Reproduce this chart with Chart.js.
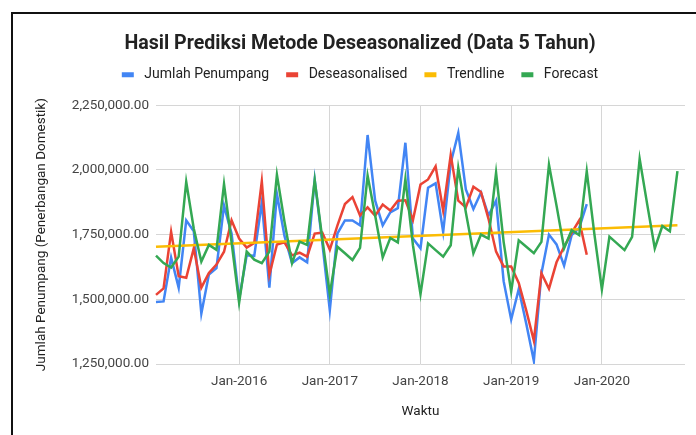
<!DOCTYPE html>
<html>
<head>
<meta charset="utf-8">
<script src="https://cdn.jsdelivr.net/npm/chart.js@4.4.1/dist/chart.umd.min.js"></script>
<style>
  html, body { margin: 0; padding: 0; background: #fff; overflow: hidden; }
  body { width: 696px; height: 435px; position: relative; }
  #frame { position: absolute; left: 11px; top: 12px; width: 720px; height: 440px; border-left: 2px solid #111; border-top: 2px solid #111; }
  #prediksi-chart { position: absolute; left: 0; top: 0; }
</style>
</head>
<body>
<div id="frame"><canvas id="prediksi-chart" width="694" height="421"></canvas></div>
<script>
// ---- Data ----
const categories = [
  'Feb-2015', 'Mar-2015', 'Apr-2015', 'May-2015', 'Jun-2015', 'Jul-2015', 'Aug-2015', 'Sep-2015', 'Oct-2015', 'Nov-2015', 'Dec-2015',
  'Jan-2016', 'Feb-2016', 'Mar-2016', 'Apr-2016', 'May-2016', 'Jun-2016', 'Jul-2016', 'Aug-2016', 'Sep-2016', 'Oct-2016', 'Nov-2016', 'Dec-2016',
  'Jan-2017', 'Feb-2017', 'Mar-2017', 'Apr-2017', 'May-2017', 'Jun-2017', 'Jul-2017', 'Aug-2017', 'Sep-2017', 'Oct-2017', 'Nov-2017', 'Dec-2017',
  'Jan-2018', 'Feb-2018', 'Mar-2018', 'Apr-2018', 'May-2018', 'Jun-2018', 'Jul-2018', 'Aug-2018', 'Sep-2018', 'Oct-2018', 'Nov-2018', 'Dec-2018',
  'Jan-2019', 'Feb-2019', 'Mar-2019', 'Apr-2019', 'May-2019', 'Jun-2019', 'Jul-2019', 'Aug-2019', 'Sep-2019', 'Oct-2019', 'Nov-2019', 'Dec-2019',
  'Jan-2020', 'Feb-2020', 'Mar-2020', 'Apr-2020', 'May-2020', 'Jun-2020', 'Jul-2020', 'Aug-2020', 'Sep-2020', 'Oct-2020', 'Nov-2020', 'Dec-2020',
];

const jumlahPenumpang = [
  1490000, 1492000, 1661000, 1545000, 1805000, 1763000, 1445000, 1596000, 1621000, 1862000, 1754000,
  1500000, 1670000, 1668000, 1875000, 1545000, 1907000, 1745000, 1640000, 1662000, 1643000, 1962000, 1720000,
  1458000, 1754000, 1805000, 1805000, 1786000, 2135000, 1881000, 1786000, 1836000, 1852000, 2105000, 1735000,
  1697000, 1931000, 1948000, 1760000, 2027000, 2143000, 1925000, 1849000, 1912000, 1824000, 1881000, 1570000,
  1422000, 1540000, 1405000, 1262000, 1600000, 1750000, 1712000, 1630000, 1748000, 1775000, 1868000,
];

const deseasonalised = [
  1517000, 1542000, 1761000, 1589000, 1583000, 1697000, 1545000, 1602000, 1634000, 1684000, 1805000,
  1735000, 1700000, 1718000, 1956000, 1595000, 1712000, 1720000, 1670000, 1680000, 1665000, 1754000, 1758000,
  1692000, 1785000, 1868000, 1895000, 1824000, 1855000, 1823000, 1866000, 1843000, 1881000, 1883000, 1806000,
  1944000, 1963000, 2014000, 1843000, 2058000, 1881000, 1855000, 1935000, 1915000, 1811000, 1684000, 1627000,
  1627000, 1563000, 1456000, 1340000, 1601000, 1541000, 1643000, 1703000, 1757000, 1805000, 1672000,
];

// garis tren: titik awal dan akhir saja
const trendLabels = ['Feb-2015', 'Nov-2020'];
const trendValues = [1703000, 1786000];

const forecast = [
  1669000, 1640000, 1623000, 1665000, 1954000, 1773000, 1646000, 1710000, 1691000, 1945000, 1720000,
  1487000, 1685000, 1653000, 1640000, 1684000, 1981000, 1800000, 1640000, 1723000, 1710000, 1960000, 1736000,
  1520000, 1703000, 1678000, 1652000, 1699000, 1978000, 1824000, 1662000, 1737000, 1720000, 1965000, 1709000,
  1520000, 1716000, 1690000, 1665000, 1709000, 2008000, 1836000, 1678000, 1750000, 1735000, 1989000, 1722000,
  1530000, 1728000, 1703000, 1678000, 1722000, 2020000, 1862000, 1697000, 1767000, 1748000, 1995000, 1754000,
  1538000, 1742000, 1716000, 1690000, 1741000, 2043000, 1867000, 1697000, 1783000, 1763000, 1995000,
];

const yTicks = [1250000, 1500000, 1750000, 2000000, 2250000];

// ---- Format angka sumbu Y ----
function formatAngka(v) {
  return v.toLocaleString('en-US', { minimumFractionDigits: 2, maximumFractionDigits: 2 });
}

function lineDataset(label, data, color, order) {
  return {
    label,
    data,
    borderColor: color,
    backgroundColor: color,
    borderWidth: 2.5,
    pointRadius: 0,
    tension: 0,
    order,
  };
}

// tambah jarak di bawah legend
const legendSpacer = {
  id: 'legendSpacer',
  beforeInit(chart) {
    const origFit = chart.legend.fit;
    chart.legend.fit = function () {
      origFit.call(this);
      this.height += 13.5;
    };
  },
};

Chart.defaults.font.family = 'Roboto, "Noto Sans", sans-serif';
Chart.defaults.animation = false;

const ctx = document.getElementById('prediksi-chart').getContext('2d');

new Chart(ctx, {
  type: 'line',
  data: {
    labels: categories,
    datasets: [
      lineDataset('Jumlah Penumpang', jumlahPenumpang, '#4285f4', 4),
      lineDataset('Deseasonalised', deseasonalised, '#ea4335', 3),
      lineDataset('Trendline', trendLabels.map((x, i) => ({ x, y: trendValues[i] })), '#fbbc04', 2),
      lineDataset('Forecast', forecast, '#34a853', 1),
    ],
  },
  plugins: [legendSpacer],
  options: {
    responsive: false,
    plugins: {
      title: {
        display: true,
        text: 'Hasil Prediksi Metode Deseasonalized (Data 5 Tahun)',
        color: '#222',
        font: { size: 19.6, weight: 'bold', lineHeight: 0.7 },
        padding: { top: 23, bottom: 0 },
      },
      legend: {
        position: 'top',
        labels: {
          color: '#222',
          font: { size: 14 },
          boxWidth: 12,
          boxHeight: 5,
          padding: 17,
          sort: (a, b) => a.datasetIndex - b.datasetIndex,
          generateLabels(chart) {
            // sedikit jarak antara penanda dan teks
            return Chart.defaults.plugins.legend.labels.generateLabels(chart)
              .map((item) => ({ ...item, text: ' ' + item.text, lineWidth: 0, fillStyle: item.strokeStyle }));
          },
        },
      },
      tooltip: { enabled: false },
    },
    scales: {
      x: {
        type: 'category',
        offset: false,
        border: { display: false },
        grid: { color: '#d6d6d6', drawTicks: false },
        ticks: {
          autoSkip: false,
          maxRotation: 0,
          padding: 10,
          color: '#444',
          font: { size: 13.5 },
          callback(value) {
            const label = this.getLabelForValue(value);
            return label.startsWith('Jan') ? label : null;
          },
        },
        title: {
          display: true,
          text: 'Waktu',
          color: '#222',
          font: { size: 13.5 },
          padding: { top: 14, bottom: 15 },
        },
        afterFit(scale) { scale.height = 71; },
      },
      y: {
        min: yTicks[0],
        max: yTicks[yTicks.length - 1],
        border: { display: false },
        grid: { color: '#d6d6d6', drawTicks: false },
        afterBuildTicks(scale) { scale.ticks = yTicks.map((value) => ({ value })); },
        ticks: {
          padding: 7,
          color: '#444',
          font: { size: 13.5 },
          callback: (v) => formatAngka(v),
        },
        title: {
          display: true,
          text: 'Jumlah Penumpang (Penerbangan Domestik)',
          color: '#222',
          font: { size: 13.5 },
          padding: { top: 21, bottom: 0 },
        },
        afterFit(scale) { scale.width = 143; },
      },
      // sumbu kosong di kanan, hanya untuk ruang kosong agar judul tetap di tengah kanvas
      yKanan: {
        position: 'right',
        display: true,
        border: { display: false },
        grid: { display: false },
        ticks: { display: false },
        afterFit(scale) { scale.width = 22; },
      },
    },
  },
});
</script>
</body>
</html>
